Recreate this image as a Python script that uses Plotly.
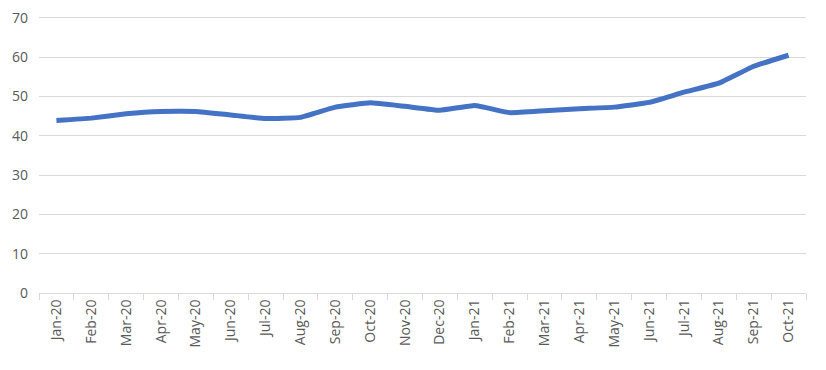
import plotly.graph_objects as go

months = ["Jan-20", "Feb-20", "Mar-20", "Apr-20", "May-20", "Jun-20", "Jul-20", "Aug-20",
          "Sep-20", "Oct-20", "Nov-20", "Dec-20", "Jan-21", "Feb-21", "Mar-21", "Apr-21",
          "May-21", "Jun-21", "Jul-21", "Aug-21", "Sep-21", "Oct-21"]
values = [43.9, 44.5, 45.6, 46.2, 46.2, 45.3, 44.4, 44.7, 47.3, 48.4, 47.5, 46.5,
          47.7, 45.9, 46.4, 46.9, 47.3, 48.5, 51.1, 53.4, 57.7, 60.5]
y_ticks = [0, 10, 20, 30, 40, 50, 60, 70]

fig = go.Figure()
fig.add_trace(go.Scatter(
    x=months, y=values, mode="lines",
    line=dict(color="#4472C4", width=5, shape="spline", smoothing=0.3),
    showlegend=False,
))

fig.update_layout(
    width=826, height=370,
    margin=dict(l=39, r=20, t=14, b=77),
    plot_bgcolor="white", paper_bgcolor="white",
    font=dict(family="Open Sans, Liberation Sans, sans-serif", size=14, color="#595959"),
)
fig.update_xaxes(
    type="category", tickangle=-90, tickson="boundaries", ticks="outside",
    ticklen=6, tickcolor="#d9d9d9", showline=True, linecolor="#d9d9d9",
    showgrid=False, tickfont=dict(size=14), range=[-0.5, len(months) - 0.5],
    automargin=False,
)
fig.update_yaxes(
    range=[0, 71], tickvals=y_ticks, showgrid=True, gridcolor="#d9d9d9",
    gridwidth=1, zeroline=False, showline=False, ticks="", ticklabelstandoff=10,
    tickfont=dict(size=14), automargin=False,
)

fig.write_html("out.html", config={"displayModeBar": False},
               post_script="document.body.style.margin='0';")
